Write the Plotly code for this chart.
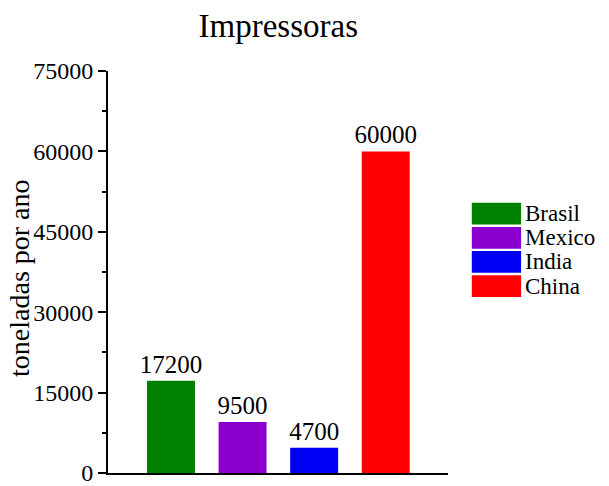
import plotly.graph_objects as go

countries = ["Brasil", "Mexico", "India", "China"]
values = [17200, 9500, 4700, 60000]
colors = ["#008000", "#8B00D0", "#0000F5", "#FF0000"]
y_ticks = [0, 15000, 30000, 45000, 60000, 75000]
y_title = "toneladas por ano"

FONT = "Liberation Serif"

fig = go.Figure()
fig.add_trace(go.Bar(
    x=list(range(len(countries))), y=values,
    marker=dict(color=colors, line=dict(width=0)),
    width=0.67,
    text=[str(v) for v in values], textposition="outside",
    constraintext="none",
    textfont=dict(family=FONT, size=25, color="black"),
    cliponaxis=False, showlegend=False,
))

# legend drawn as boxes + labels
leg_y0 = 0.645
step = 0.06
for i, (name, c) in enumerate(zip(countries, colors)):
    yc = leg_y0 - i * step
    fig.add_shape(type="rect", xref="paper", yref="paper",
                  x0=1.07, x1=1.215, y0=yc - 0.027, y1=yc + 0.027,
                  fillcolor=c, line=dict(width=0))
    fig.add_annotation(xref="paper", yref="paper", x=1.222, y=yc,
                       text=name, showarrow=False, xanchor="left", yanchor="middle",
                       font=dict(family=FONT, size=23, color="black"))

# y-axis title
fig.add_annotation(xref="paper", yref="paper", x=-0.262, y=0.485, text=y_title,
                   textangle=-90, showarrow=False, xanchor="center", yanchor="middle",
                   font=dict(family=FONT, size=28, color="black"))

fig.update_layout(
    width=609, height=486,
    margin=dict(l=108, r=161, t=71, b=13, autoexpand=False),
    paper_bgcolor="white", plot_bgcolor="white",
    font=dict(family=FONT, color="black"),
    title=dict(text="Impressoras", x=0.457, xanchor="center", y=0.947, yanchor="middle",
               font=dict(family=FONT, size=33, color="black")),
    bargap=0.3,
)
fig.update_xaxes(range=[-0.88, 3.87], showticklabels=False, ticks="",
                 showline=True, linecolor="black", linewidth=2,
                 showgrid=False, zeroline=False, automargin=False)
fig.update_yaxes(range=[0, 75000], tickvals=y_ticks, ticktext=[str(t) for t in y_ticks],
                 ticks="outside", ticklen=8, tickwidth=1.5, tickcolor="black",
                 minor=dict(dtick=7500, ticks="outside", ticklen=4, tickwidth=1.5, tickcolor="black"),
                 showline=True, linecolor="black", linewidth=2,
                 showgrid=False, zeroline=False, ticklabeloverflow="allow", automargin=False,
                 tickfont=dict(family=FONT, size=24, color="black"))

fig.write_html("out.html")
